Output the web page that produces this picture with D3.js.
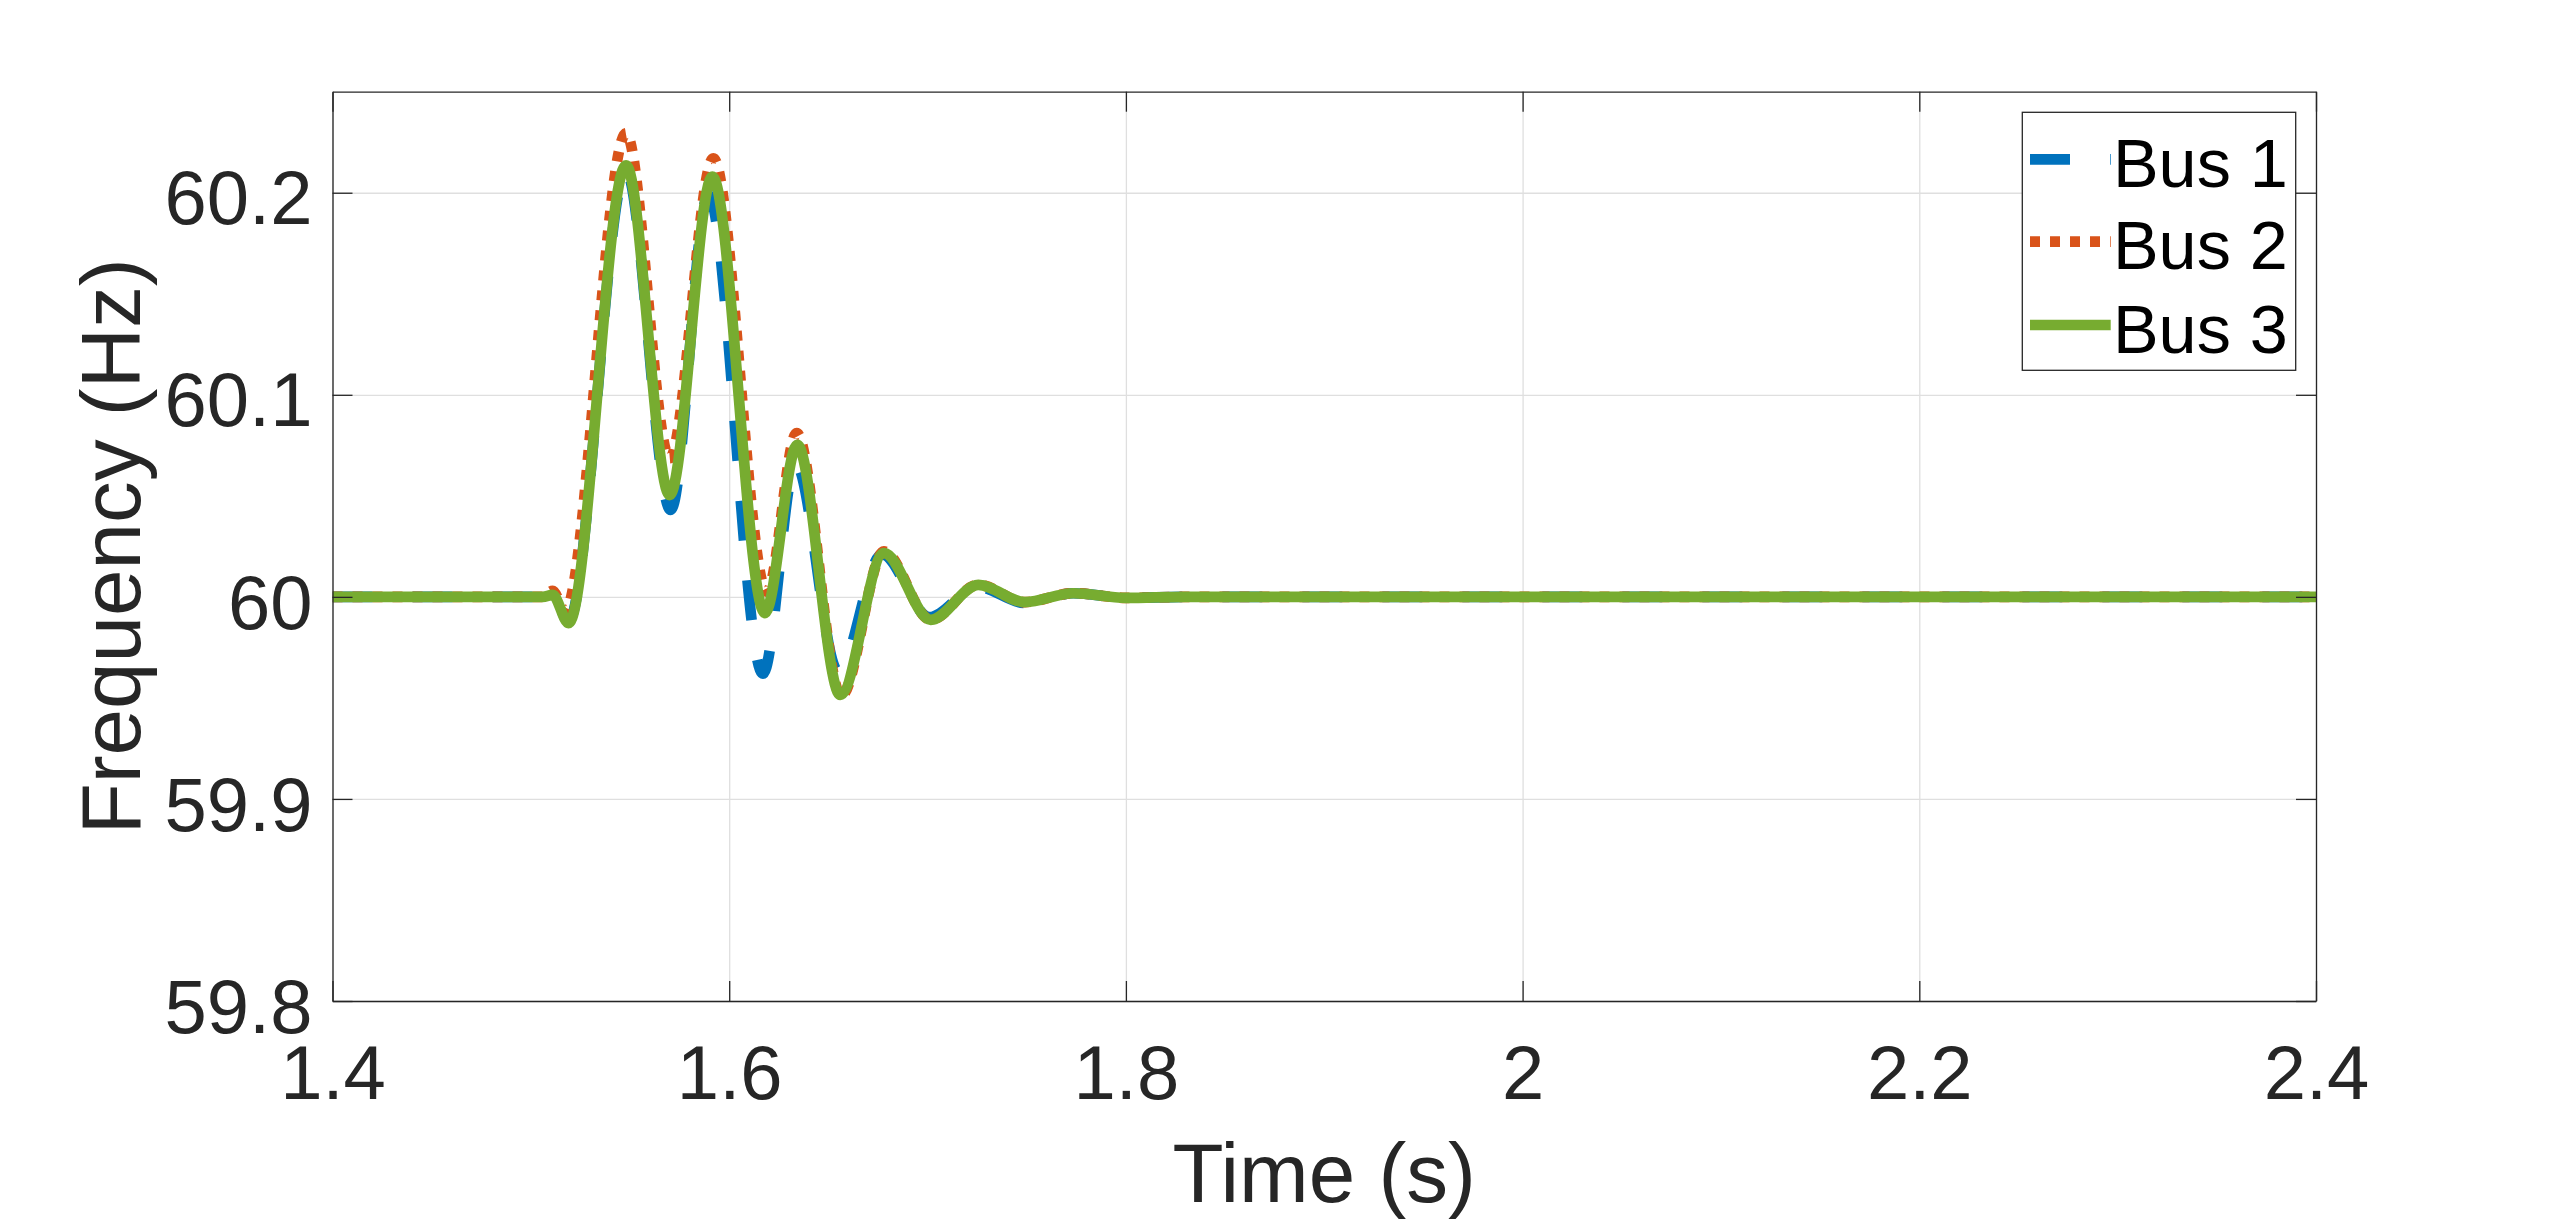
<!DOCTYPE html>
<html>
<head>
<meta charset="utf-8">
<script src="https://cdn.jsdelivr.net/npm/d3@7"></script>
<style>
  body { margin: 0; background: #fff; }
  text { font-family: "Liberation Sans", Arial, Helvetica, sans-serif; }
</style>
</head>
<body>
<svg id="chart" width="2560" height="1220"></svg>
<script>
// Values
var xTicks = [1.4, 1.6, 1.8, 2, 2.2, 2.4];
var yTicks = [59.8, 59.9, 60, 60.1, 60.2];
var seriesNames = ['Bus 1', 'Bus 2', 'Bus 3'];

var bus1Time = [1.400, 1.506, 1.511, 1.519, 1.548, 1.5705, 1.5895, 1.617, 1.6335, 1.655, 1.677, 1.701, 1.725, 1.749, 1.7735, 1.800, 1.830, 2.400];
var bus1Freq = [60.000, 60.000, 60.001, 59.988, 60.211, 60.043, 60.199, 59.962, 60.066, 59.963, 60.021, 59.990, 60.005, 59.997, 60.0018, 59.9995, 60.000, 60.000];

var bus2Time = [1.400, 1.506, 1.511, 1.5172, 1.548, 1.570, 1.592, 1.619, 1.634, 1.6565, 1.678, 1.7016, 1.7256, 1.7491, 1.7735, 1.800, 1.830, 2.400];
var bus2Freq = [60.000, 60.000, 60.003, 59.993, 60.2294, 60.0686, 60.217, 60.0025, 60.081, 59.951, 60.0225, 59.9886, 60.006, 59.9974, 60.0018, 59.9995, 60.000, 60.000];

var bus3Time = [1.400, 1.506, 1.511, 1.519, 1.548, 1.570, 1.5915, 1.618, 1.6343, 1.656, 1.678, 1.7016, 1.7256, 1.7491, 1.7735, 1.800, 1.830, 2.400];
var bus3Freq = [60.000, 60.000, 60.001, 59.987, 60.2136, 60.0504, 60.208, 59.992, 60.0752, 59.9515, 60.0216, 59.9886, 60.0059, 59.9974, 60.0018, 59.9995, 60.000, 60.000];

// Layout
var plotLeft = 332.5, plotRight = 2316, plotTop = 91.7, plotBottom = 1001;
var axisColor = '#262626';
var lineW = 10.7;
var fontSize = 76;

var xScale = d3.scaleLinear().domain([1.4, 2.4]).range([plotLeft, plotRight]);
var yScale = d3.scaleLinear().domain([59.8, 60.25]).range([plotBottom, plotTop]);

var svg = d3.select('#chart');
svg.append('rect').attr('width', 2560).attr('height', 1220).attr('fill', '#fff');

// Grid
svg.append('g')
   .attr('transform', 'translate(0,' + plotBottom + ')')
   .call(d3.axisBottom(xScale).tickValues(xTicks).tickSize(-(plotBottom - plotTop)).tickFormat(''))
   .call(function(g) { g.select('.domain').remove(); })
   .selectAll('line').attr('stroke', '#dfdfdf').attr('stroke-width', 1.3);

svg.append('g')
   .attr('transform', 'translate(' + plotLeft + ',0)')
   .call(d3.axisLeft(yScale).tickValues(yTicks).tickSize(-(plotRight - plotLeft)).tickFormat(''))
   .call(function(g) { g.select('.domain').remove(); })
   .selectAll('line').attr('stroke', '#dfdfdf').attr('stroke-width', 1.3);

// Series lines
svg.append('clipPath').attr('id', 'plot-clip')
   .append('rect').attr('x', plotLeft).attr('y', plotTop)
   .attr('width', plotRight - plotLeft).attr('height', plotBottom - plotTop);

var series = [
  { name: seriesNames[0], t: bus1Time, f: bus1Freq, color: '#0072BD', dash: '40,40' },
  { name: seriesNames[1], t: bus2Time, f: bus2Freq, color: '#D95319', dash: '10,10' },
  { name: seriesNames[2], t: bus3Time, f: bus3Freq, color: '#77AC30', dash: null }
];

var line = d3.line()
    .x(function(d) { return xScale(d[0]); })
    .y(function(d) { return yScale(d[1]); })
    .curve(d3.curveMonotoneX);

var plot = svg.append('g').attr('clip-path', 'url(#plot-clip)');
series.forEach(function(s) {
  var pts = d3.zip(s.t, s.f);
  plot.append('path')
      .datum(pts)
      .attr('d', line)
      .attr('fill', 'none')
      .attr('stroke', s.color)
      .attr('stroke-width', lineW)
      .attr('stroke-dasharray', s.dash)
      .attr('stroke-linejoin', 'round');
});

// Axes (box with inward ticks on all sides)
function styleAxis(g) {
  g.selectAll('.domain').attr('stroke', axisColor).attr('stroke-width', 1.3);
  g.selectAll('.tick line').attr('stroke', axisColor).attr('stroke-width', 1.3);
  g.selectAll('text').attr('fill', axisColor).attr('font-size', fontSize)
   .attr('font-family', '"Liberation Sans", Arial, Helvetica, sans-serif');
}

var xAxis = svg.append('g')
   .attr('transform', 'translate(0,' + plotBottom + ')')
   .call(d3.axisBottom(xScale).tickValues(xTicks).tickSize(-20).tickSizeOuter(0).tickPadding(44)
         .tickFormat(d3.format('')))
   .call(styleAxis);
xAxis.selectAll('text').attr('dy', '0.71em');

svg.append('g')
   .attr('transform', 'translate(0,' + plotTop + ')')
   .call(d3.axisTop(xScale).tickValues(xTicks).tickSize(-20).tickSizeOuter(0).tickFormat(''))
   .call(styleAxis);

var yAxis = svg.append('g')
   .attr('transform', 'translate(' + plotLeft + ',0)')
   .call(d3.axisLeft(yScale).tickValues(yTicks).tickSize(-20).tickSizeOuter(0).tickPadding(20)
         .tickFormat(d3.format('')))
   .call(styleAxis);
yAxis.selectAll('text').attr('dy', '0.41em');

svg.append('g')
   .attr('transform', 'translate(' + plotRight + ',0)')
   .call(d3.axisRight(yScale).tickValues(yTicks).tickSize(-20).tickSizeOuter(0).tickFormat(''))
   .call(styleAxis);

// Axis labels
svg.append('text')
   .attr('x', (plotLeft + plotRight) / 2)
   .attr('y', 1201.7)
   .attr('text-anchor', 'middle')
   .attr('font-size', 83.6)
   .attr('fill', axisColor)
   .text('Time (s)');

svg.append('text')
   .attr('transform', 'translate(140,' + ((plotTop + plotBottom) / 2) + ') rotate(-90)')
   .attr('text-anchor', 'middle')
   .attr('font-size', 83.6)
   .attr('fill', axisColor)
   .text('Frequency (Hz)');

// Legend
var legend = svg.append('g');
legend.append('rect')
      .attr('x', 2022.3).attr('y', 112.3)
      .attr('width', 2295.7 - 2022.3).attr('height', 370.3 - 112.3)
      .attr('fill', '#fff')
      .attr('stroke', axisColor)
      .attr('stroke-width', 1.3);

var legendY = [159.3, 241.7, 325];
series.forEach(function(s, i) {
  legend.append('line')
        .attr('x1', 2030).attr('x2', 2110.7)
        .attr('y1', legendY[i]).attr('y2', legendY[i])
        .attr('stroke', s.color)
        .attr('stroke-width', lineW)
        .attr('stroke-dasharray', s.dash);
  legend.append('text')
        .attr('x', 2113)
        .attr('y', legendY[i] + 27.5)
        .attr('font-size', 68.4)
        .attr('fill', '#000')
        .text(s.name);
});
</script>
</body>
</html>
